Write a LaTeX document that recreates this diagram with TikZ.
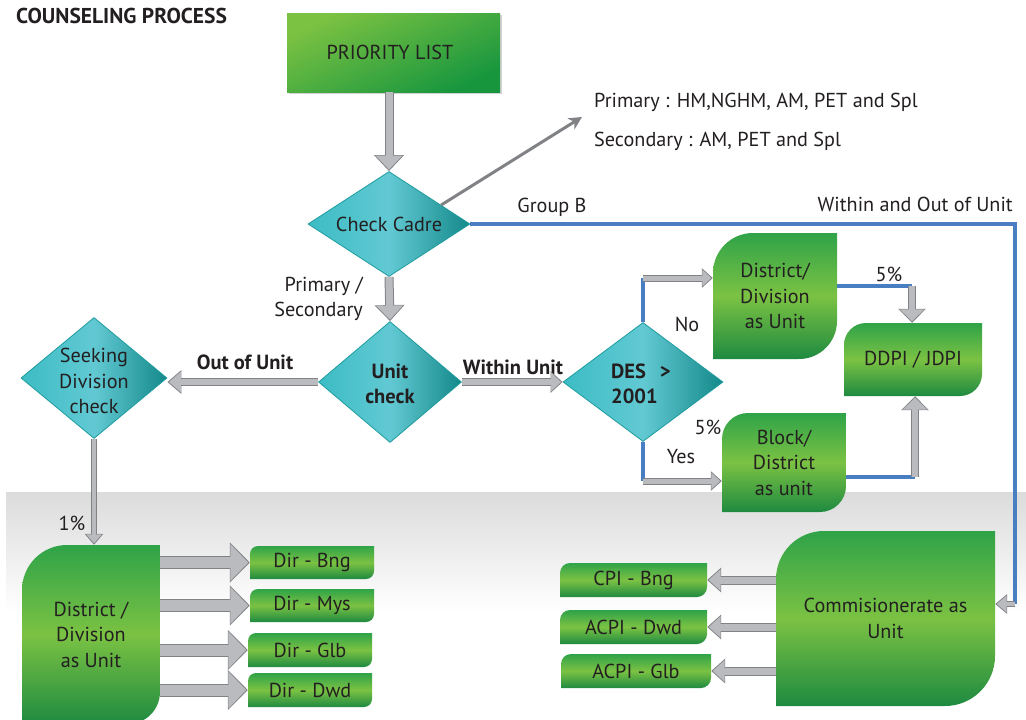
\documentclass[tikz,border=0pt]{standalone}
\usepackage{fontspec}
\setmainfont{PT Sans}
\usetikzlibrary{shapes.geometric,arrows.meta,shadows}

\definecolor{txt}{HTML}{231F20}
\definecolor{gtop}{HTML}{2FA348}
\definecolor{gmid}{HTML}{7BC243}
\definecolor{gbot}{HTML}{1E8A40}
\definecolor{pllight}{HTML}{7CC242}
\definecolor{pldark}{HTML}{17963E}
\definecolor{tleft}{HTML}{3CBCC4}
\definecolor{tmid}{HTML}{62C9D3}
\definecolor{tright}{HTML}{14898A}
\definecolor{tedge}{HTML}{1E9C9E}
\definecolor{bluel}{HTML}{4A7EC2}
\definecolor{gout}{HTML}{808285}
\definecolor{gin}{HTML}{B9BBBE}

\tikzset{
  garrow/.code n args={3}{%
    \pgfmathsetmacro\gaOW{#1+2}%
    \pgfmathsetmacro\gaHW{#2+3}%
    \pgfmathsetmacro\gaHL{#3+2}%
    \tikzset{draw=gin, line width=#1pt, shorten >=1.5pt,
      -{Triangle[width=#2pt,length=#3pt]},
      preaction={draw=gout, line width=\gaOW pt, shorten >=0pt,
        -{Triangle[width=\gaHW pt,length=\gaHL pt]}}}%
  },
  blueline/.style={draw=bluel, line width=3.5pt},
  thinarrow/.style={draw=gout, line width=3pt, -{Stealth[length=13pt,width=13pt,inset=4pt]}},
  leaf/.style={top color=gtop, bottom color=gbot, middle color=gmid},
  boxtext/.style={rectangle, inner sep=0pt, align=center},
  dia/.style={diamond, inner sep=0pt, draw=tedge, line width=0.8pt,
    left color=tleft, right color=tright, middle color=tmid},
  plbox/.style={rectangle, inner sep=0pt, top color=pllight, bottom color=pldark,
    shading angle=25, drop shadow={opacity=0.35, shadow xshift=2pt, shadow yshift=-2pt}},
  bold/.style={font=\bfseries\fontsize{20.5}{25.5}\selectfont},
}

% box with rounded top-left and bottom-right corners
% #1 name, #2 left, #3 top, #4 right, #5 bottom, #6 top-left radius, #7 bottom-right radius, #8 text
\newcommand\leafbox[8]{%
  \shade[leaf] (#2,#5) -- (#2,{#3+#6})
    .. controls (#2,{#3+0.448*#6}) and ({#2+0.448*#6},#3) .. ({#2+#6},#3)
    -- (#4,#3) -- (#4,{#5-#7})
    .. controls (#4,{#5-0.448*#7}) and ({#4-0.448*#7},#5) .. ({#4-#7},#5)
    -- cycle;
  \node[boxtext, minimum width={#4pt-#2pt}, minimum height={#5pt-#3pt}]
    (#1) at ({(#2+#4)/2},{(#3+#5)/2}) {#8};
}

\begin{document}
\begin{tikzpicture}[x=1pt,y=-1pt,
  every node/.style={text=txt, inner sep=0pt, font=\fontsize{20.2}{25.5}\selectfont}]
\useasboundingbox (0,0) rectangle (1026,720);
\fill[white] (0,0) rectangle (1026,720);

% grey lower band
\shade[top color=gray!28, bottom color=white] (6,492) rectangle (1026,612);

% title
\node[anchor=west, font=\bfseries\fontsize{21.5}{24}\selectfont] (title) at (16,16) {COUNSELING PROCESS};

% priority list
\node[plbox, minimum width=213pt, minimum height=79pt] (pl) at (393.5,52.5) {\hspace*{-7pt}PRIORITY LIST};

% decision diamonds
\node[dia, minimum width=162pt, minimum height=105pt,
  label={center:Check Cadre}] (cadre) at (389,224) {};
\node[dia, minimum width=143pt, minimum height=121pt,
  label={[bold, align=center, yshift=-2pt]center:Unit\\check}] (unit) at (390,382) {};
\node[dia, minimum width=146pt, minimum height=121pt,
  label={[align=center, yshift=-3pt]center:Seeking\\Division\\check}] (seek) at (94,378) {};
\node[dia, minimum width=160pt, minimum height=119pt,
  label={[bold, align=left, xshift=-2pt, yshift=-2pt]center:DES\hspace{14pt}>\\2001}] (des) at (643,382) {};

% unit boxes
\leafbox{dd}{713}{233}{837}{359}{40}{38}{District/\\Division\\as Unit}
\leafbox{ddpi}{844}{323}{982}{396}{22}{22}{DDPI / JDPI}
\leafbox{block}{722}{413}{846}{512}{26}{26}{Block/\\District\\as unit}
\leafbox{dist}{22}{545}{160}{724}{45}{32}{District /\\Division\\as Unit}
\leafbox{dbng}{250}{546}{374}{579}{8}{8}{Dir - Bng}
\leafbox{dmys}{250}{589}{374}{622}{8}{8}{Dir - Mys}
\leafbox{dglb}{248}{633}{372}{667}{8}{8}{Dir - Glb}
\leafbox{ddwd}{248}{673}{372}{707}{8}{8}{Dir - Dwd}
\leafbox{comm}{776}{531}{995}{706}{48}{50}{Commisionerate as\\Unit}
\leafbox{cbng}{560}{563}{707}{597}{10}{10}{CPI - Bng}
\leafbox{cdwd}{560}{610}{707}{644}{10}{10}{ACPI - Dwd}
\leafbox{cglb}{561}{654}{711}{688}{10}{10}{ACPI - Glb}

% cadre lists
\node[anchor=west] (prim) at (594,102) {Primary : HM,NGHM, AM, PET and Spl};
\node[anchor=west] (sec) at (594,141) {Secondary : AM, PET and Spl};
\coordinate (rolestip) at (582,117);

% labels
\node (groupb) at (552,207) {Group B};
\node[anchor=east] (wou) at (1013,204) {Within and Out of Unit};
\node[anchor=east, align=right] (primsec) at (363,299) {Primary /\\Secondary};
\node[bold] (oou) at (245,362) {Out of Unit};
\node[bold] (wu) at (513,367) {Within Unit};
\node (no) at (687,324) {No};
\node (yes) at (681,457) {Yes};
\node (p5a) at (708,427) {5\%};
\node (p5b) at (889,274) {5\%};
\node (p1) at (72,523) {1\%};

% corner points of the connectors
\coordinate (bcorner) at (1015,604);
\coordinate (nocorner) at (643,278);
\coordinate (yescorner) at (643,481);
\coordinate (ddcorner) at (912,286);
\coordinate (blcorner) at (915,477);

% connectors
\draw[garrow={7}{26}{14}] (cadre.north |- pl.south) -- (cadre.north);
\draw[thinarrow] (cadre.20) -- (rolestip);
\draw[blueline] (cadre.east) -| (bcorner);
\draw[garrow={4}{16}{10}] (bcorner) -- (comm.east |- bcorner);
\draw[garrow={7}{26}{14}] (cadre.south) -- (unit.north);
\draw[garrow={6}{20}{12}] (unit.west) -- (seek.east |- unit.west);
\draw[garrow={4}{15}{9}] (seek.south) -- (seek.south |- dist.north);
\draw[garrow={6}{18}{10}] (unit.east) -- (des.west);

\draw[blueline] (des.north) -- (nocorner);
\draw[garrow={5}{16}{9}] (nocorner) -- (dd.west |- nocorner);
\draw[blueline] (des.south) -- (yescorner);
\draw[garrow={5}{16}{9}] (yescorner) -- (block.west |- yescorner);

\draw[blueline] (dd.east |- ddcorner) -- (ddcorner);
\draw[garrow={6}{24}{12}] (ddcorner) -- (ddcorner |- ddpi.north);
\draw[blueline] (block.east |- blcorner) -- (blcorner);
\draw[garrow={6}{24}{12}] (blcorner) -- (blcorner |- ddpi.south);

\foreach \t in {dbng,dmys,dglb,ddwd}
  \draw[garrow={11}{36}{18}] (dist.east |- \t.west) -- (\t.west);
\foreach \t in {cbng,cdwd,cglb}
  \draw[garrow={7}{21}{12}] (comm.west |- \t.east) -- (\t.east);
\end{tikzpicture}
\end{document}
